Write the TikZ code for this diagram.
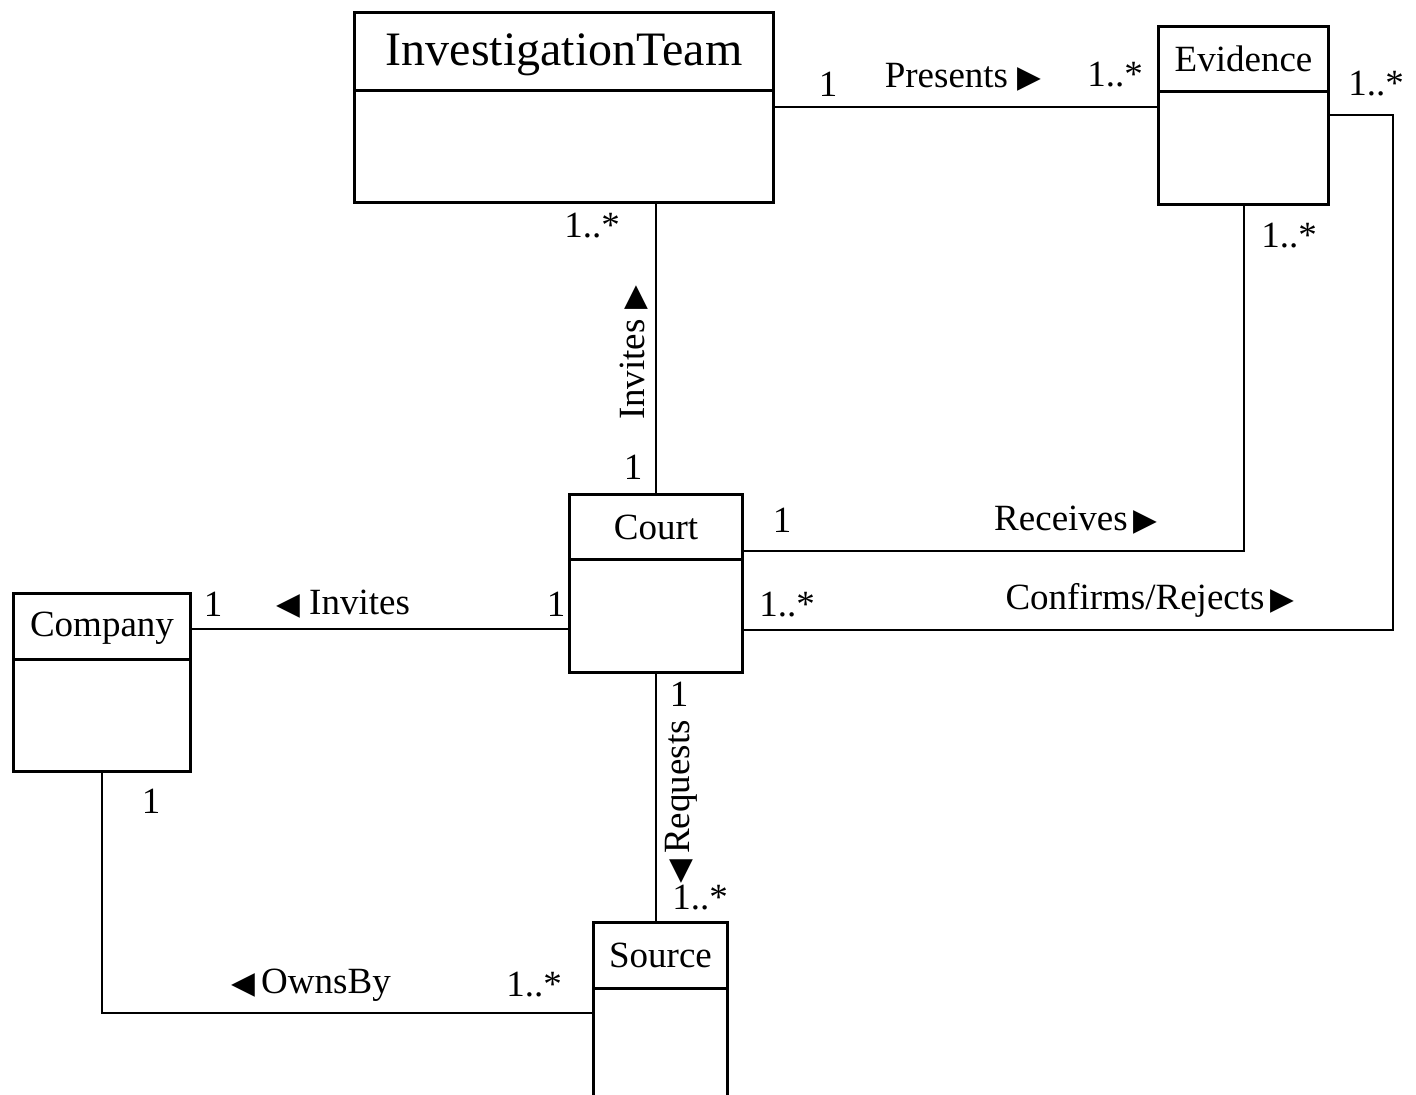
\documentclass[tikz,border=0pt]{standalone}
\usepackage{fontspec}
\setmainfont{Liberation Serif}
\newfontfamily\symfont{DejaVu Sans}
\usetikzlibrary{positioning,calc}

\newcommand{\rtri}{{\symfont\fontsize{15.5}{15}\selectfont ▶}}
\newcommand{\ltri}{{\symfont\fontsize{15.5}{15}\selectfont ◀}}

\tikzset{
  classbox/.style={draw, line width=1.5pt, inner sep=0pt, anchor=north west},
  classname/.style={font=\fontsize{18.5}{20}\selectfont, inner sep=0pt},
  assoc/.style={line width=1pt},
  lbl/.style={font=\fontsize{18.5}{20}\selectfont, inner sep=0pt},
}

\begin{document}
\begin{tikzpicture}[x=0.5pt,y=-0.5pt]
\useasboundingbox (0,0) rectangle (1416,1095);
\begin{scope}
\clip (0,0) rectangle (1416,1095);
% classes
\node[classbox, minimum width=209.5pt, minimum height=95pt] (team) at (353,11) {};
\draw[line width=1.5pt] ([yshift=-40pt]team.north west) -- ([yshift=-40pt]team.north east);
\node[classname, font=\fontsize{24}{26}\selectfont] (teamname) at ([yshift=-22pt]team.north) {InvestigationTeam};

\node[classbox, minimum width=85pt, minimum height=89pt] (evid) at (1157,25) {};
\draw[line width=1.5pt] ([yshift=-33.5pt]evid.north west) -- ([yshift=-33.5pt]evid.north east);
\node[classname] (evidname) at ([yshift=-17pt]evid.north) {Evidence};

\node[classbox, minimum width=86.5pt, minimum height=89pt] (court) at (568,493) {};
\draw[line width=1.5pt] ([yshift=-33pt]court.north west) -- ([yshift=-33pt]court.north east);
\node[classname] (courtname) at ([yshift=-17pt]court.north) {Court};

\node[classbox, minimum width=88.5pt, minimum height=89pt] (comp) at (12,592) {};
\draw[line width=1.5pt] ([yshift=-33.5pt]comp.north west) -- ([yshift=-33.5pt]comp.north east);
\node[classname] (compname) at ([yshift=-18pt]comp.north) {Company};

\node[classbox, minimum width=67pt, minimum height=90pt] (src) at (592,921) {};
\draw[line width=1.5pt] ([yshift=-33.5pt]src.north west) -- ([yshift=-33.5pt]src.north east);
\node[classname] (srcname) at ([yshift=-17pt]src.north) {Source};

% associations
\draw[assoc] (team.east) -- (team.east -| evid.west);
\draw[assoc] (court.north) -- (court.north |- team.south);
\draw[assoc] ([yshift=16.5pt]court.east) -| (evid.south);
\draw[assoc] ([yshift=-23pt]court.east) -| ([xshift=31.5pt]evid.east) -- (evid.east);
\draw[assoc] ([yshift=27pt]comp.east) -- ([yshift=27pt]comp.east -| court.west);
\draw[assoc] (court.south) -- (court.south |- src.north);
\draw[assoc] (comp.south) |- (src.west);
\end{scope}

% labels
\node[lbl] (m1) at (828,84) {1};
\node[lbl] (presents) at (963,77) {Presents \rtri};
\node[lbl] (m2) at (1115,75) {1..*};
\node[lbl] (m3) at (1376,84) {1..*};
\node[lbl] (m4) at (592,226) {1..*};
\node[lbl] (m5) at (1289,236) {1..*};
\node[lbl, rotate=90] (invites1) at (634,353) {Invites \rtri};
\node[lbl] (m6) at (633,467) {1};
\node[lbl] (m7) at (782,520) {1};
\node[lbl] (receives) at (1076,520) {Receives\,\rtri};
\node[lbl] (m8) at (787,605) {1..*};
\node[lbl] (confirms) at (1150,600) {Confirms/Rejects\,\rtri};
\node[lbl] (m9) at (213,604) {1};
\node[lbl] (invites2) at (343,604) {\ltri\ Invites};
\node[lbl] (m10) at (556,604) {1};
\node[lbl] (m11) at (679,694) {1};
\node[lbl, rotate=90] (requests) at (681,802) {\ltri\,Requests};
\node[lbl] (m12) at (700,898) {1..*};
\node[lbl] (m13) at (151,801) {1};
\node[lbl] (ownsby) at (311,985) {\ltri\,OwnsBy};
\node[lbl] (m14) at (534,985) {1..*};
\end{tikzpicture}
\end{document}
